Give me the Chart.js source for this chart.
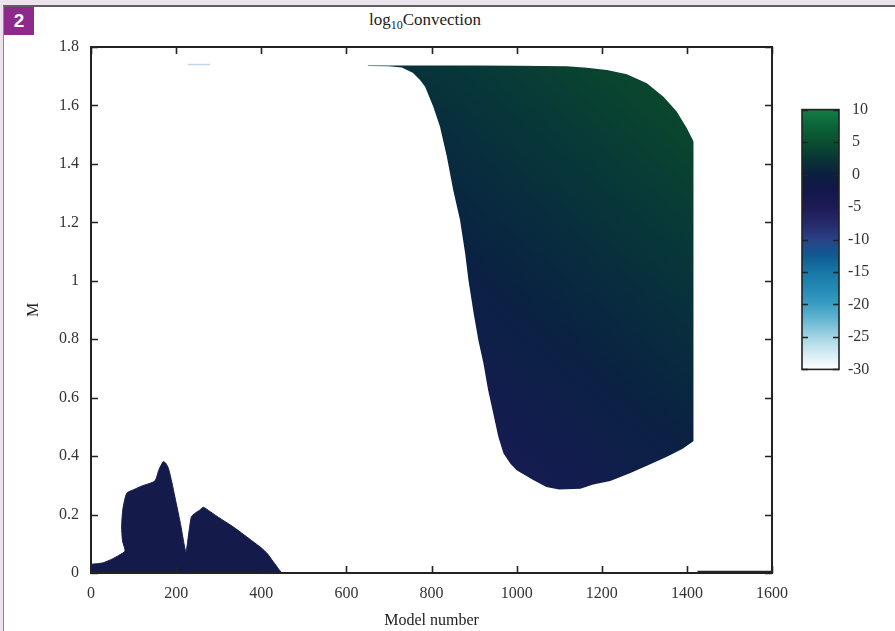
<!DOCTYPE html>
<html>
<head>
<meta charset="utf-8">
<title>log10Convection</title>
<script src="https://cdn.jsdelivr.net/npm/chart.js@4.4.1/dist/chart.umd.min.js"></script>
<style>
html,body{margin:0;padding:0;}
body{width:895px;height:631px;background:#ede3ef;position:relative;overflow:hidden;font-family:"Liberation Serif",serif;}
#panel{position:absolute;left:3px;top:5px;right:0;bottom:0;background:#fff;border-top:2px solid #5f5f5f;border-left:1px solid #8a8a8a;}
#badge{position:absolute;left:4px;top:7px;width:30px;height:28px;background:#8d2a8c;color:#fff;font:bold 19px "Liberation Sans",sans-serif;text-align:center;line-height:28px;}
#title{position:absolute;left:0;top:10px;width:850px;text-align:center;font-size:17px;color:#222;}
#title sub{font-size:12px;color:#222;}
#main{position:absolute;left:0;top:0;width:895px;height:631px;}
#cb{position:absolute;left:795px;top:91px;width:100px;height:297px;}
</style>
</head>
<body>
<div id="panel"></div>
<div id="badge">2</div>
<div id="title">log<sub>10</sub>Convection</div>
<div id="main"><canvas id="mainChart"></canvas></div>
<div id="cb"><canvas id="cbChart"></canvas></div>
<script>
// x = model number, y = M
// main convective zone (upper edge / lower edge)
var coreTopModel = [650, 700, 800, 900, 1000, 1118, 1165, 1212, 1259, 1306, 1345, 1376, 1400, 1416]
var coreTopM     = [1.737, 1.737, 1.737, 1.737, 1.736, 1.734, 1.729, 1.721, 1.707, 1.676, 1.63, 1.579, 1.522, 1.476]

var coreBotModel = [650, 700, 730, 756, 773, 785, 804, 820, 836, 851, 867, 879, 887, 899, 910, 922, 933, 945, 957, 969, 985, 1000, 1039, 1070, 1100, 1150, 1180, 1220, 1266, 1310, 1353, 1390, 1416]
var coreBotM     = [1.735, 1.734, 1.73, 1.712, 1.687, 1.664, 1.596, 1.527, 1.425, 1.311, 1.208, 1.094, 1.0, 0.889, 0.797, 0.718, 0.626, 0.547, 0.466, 0.41, 0.375, 0.352, 0.318, 0.294, 0.286, 0.288, 0.303, 0.315, 0.341, 0.37, 0.398, 0.425, 0.452]

// early convective core
var earlyModel = [0, 15, 29, 50, 65, 80, 74, 72, 75, 84, 100, 120, 150, 160, 170, 176, 182, 190, 197, 210, 223, 230, 236, 244, 255, 264, 280, 300, 334, 360, 381, 401, 415, 428, 440, 448]
var earlyM     = [0.03, 0.032, 0.035, 0.048, 0.06, 0.075, 0.11, 0.16, 0.22, 0.273, 0.285, 0.298, 0.315, 0.355, 0.381, 0.375, 0.358, 0.31, 0.261, 0.17, 0.073, 0.14, 0.193, 0.204, 0.215, 0.225, 0.21, 0.19, 0.158, 0.13, 0.107, 0.085, 0.065, 0.039, 0.015, 0]

// thin bits
var sliverModel = [228, 280]
var sliverM     = [1.74, 1.74]
var lateModel   = [1425, 1600]
var lateM       = [0.003, 0.003]

// colour bar
var cbValues = [10, 7.5, 5, 2.5, 0, -2.5, -5, -7.5, -10, -12.5, -15, -17.5, -20, -22.5, -25, -27.5, -30]
var cbColors = ['#137d45', '#0c6439', '#0a4f30', '#083636', '#0c1f40', '#13174a', '#1d1a56', '#25296a', '#2a4286', '#0f5b91', '#1877a6', '#2389b5', '#3a9dc2', '#69b8d2', '#a3d4e4', '#d3ebf3', '#ffffff']
var cbTicks = [10, -30, 5]  // max, min, step

function pts(xs, ys) {
  var out = []
  for (var i = 0; i < xs.length; i++) out.push({x: xs[i], y: ys[i]})
  return out
}

var serif = "'Liberation Serif', 'DejaVu Serif', serif"

// ticks pointing into the plot, plus the frame
var inwardTicks = {
  id: 'inwardTicks',
  afterDatasetsDraw: function (chart, args, opts) {
    var c = chart.ctx
    var a = chart.chartArea
    var len = opts.len || 7
    c.save()
    c.strokeStyle = '#222'
    c.lineWidth = 1.6
    c.beginPath()
    if (opts.x) {
      var sx = chart.scales.x
      sx.ticks.forEach(function (t) {
        var px = Math.round(sx.getPixelForValue(t.value)) + 0.5
        c.moveTo(px, a.bottom); c.lineTo(px, a.bottom - len)
        c.moveTo(px, a.top); c.lineTo(px, a.top + len)
      })
    }
    var sy = chart.scales.y
    sy.ticks.forEach(function (t) {
      var py = Math.round(sy.getPixelForValue(t.value)) + 0.5
      c.moveTo(a.left, py); c.lineTo(a.left + len, py)
      c.moveTo(a.right, py); c.lineTo(a.right - len, py)
    })
    c.stroke()
    c.lineWidth = opts.frame || 2
    c.strokeRect(a.left, a.top, a.right - a.left, a.bottom - a.top)
    c.restore()
  }
}

function coreFill(ctx) {
  var chart = ctx.chart
  if (!chart.chartArea) return '#0a2a40'
  var sx = chart.scales.x, sy = chart.scales.y
  var g = chart.ctx.createLinearGradient(sx.getPixelForValue(850), sy.getPixelForValue(0.6), sx.getPixelForValue(1420), sy.getPixelForValue(1.6))
  g.addColorStop(0, '#141c50')
  g.addColorStop(0.3, '#0a2143')
  g.addColorStop(0.65, '#07353a')
  g.addColorStop(1, '#0a4a2b')
  return g
}

function cbFill(ctx) {
  var chart = ctx.chart
  if (!chart.chartArea) return '#0c1f40'
  var sy = chart.scales.y
  var g = chart.ctx.createLinearGradient(0, sy.getPixelForValue(10), 0, sy.getPixelForValue(-30))
  for (var i = 0; i < cbValues.length; i++) {
    g.addColorStop((10 - cbValues[i]) / 40, cbColors[i])
  }
  return g
}

new Chart(document.getElementById('mainChart'), {
  type: 'line',
  data: {
    datasets: [
      {label: 'top', data: pts(coreTopModel, coreTopM), fill: '+1', backgroundColor: coreFill, borderWidth: 0, pointRadius: 0, tension: 0},
      {label: 'bottom', data: pts(coreBotModel, coreBotM), fill: false, borderWidth: 0, pointRadius: 0, tension: 0},
      {label: 'early', data: pts(earlyModel, earlyM), fill: 'origin', backgroundColor: '#141a4a', borderColor: '#141a4a', borderWidth: 1, pointRadius: 0, tension: 0.2},
      {label: 'sliver', data: pts(sliverModel, sliverM), fill: false, borderColor: '#bcd8e6', borderWidth: 1.5, pointRadius: 0},
      {label: 'late', data: pts(lateModel, lateM), fill: false, borderColor: '#222', borderWidth: 2.5, pointRadius: 0}
    ]
  },
  options: {
    animation: false,
    responsive: true,
    maintainAspectRatio: false,
    layout: {padding: {left: 0, top: 47, right: 123, bottom: 0}},
    plugins: {
      legend: {display: false},
      tooltip: {enabled: false},
      inwardTicks: {len: 7, x: true, frame: 2}
    },
    scales: {
      x: {
        type: 'linear', min: 0, max: 1600,
        grid: {display: false, drawTicks: false},
        border: {display: false},
        ticks: {stepSize: 200, padding: 11, maxRotation: 0, color: '#333', font: {family: serif, size: 16},
          callback: function (v) { return String(v) }},
        title: {display: true, text: 'Model number', color: '#222', font: {family: serif, size: 16}, padding: {top: 0, bottom: 1}},
        afterFit: function (s) { s.height = 58 }
      },
      y: {
        type: 'linear', min: 0, max: 1.8,
        grid: {display: false, drawTicks: false},
        border: {display: false},
        ticks: {stepSize: 0.2, padding: 12, color: '#333', font: {family: serif, size: 16},
          callback: function (v) { return String(parseFloat(v.toFixed(1))) }},
        title: {display: true, text: 'M', color: '#222', font: {family: serif, size: 16}, padding: {top: 24, bottom: 0}},
        afterFit: function (s) { s.width = 91 }
      }
    }
  },
  plugins: [inwardTicks]
})

new Chart(document.getElementById('cbChart'), {
  type: 'bar',
  data: {
    labels: ['log10Convection'],
    datasets: [{data: [[cbTicks[1], cbTicks[0]]], backgroundColor: cbFill, borderWidth: 0, barPercentage: 1, categoryPercentage: 1}]
  },
  options: {
    animation: false,
    responsive: true,
    maintainAspectRatio: false,
    layout: {padding: {left: 7, top: 0, right: 0, bottom: 0}},
    plugins: {
      legend: {display: false},
      tooltip: {enabled: false},
      inwardTicks: {len: 6, x: false, frame: 1.6}
    },
    scales: {
      x: {display: false},
      y: {
        position: 'right', min: cbTicks[1], max: cbTicks[0],
        grid: {display: false, drawTicks: false},
        border: {display: false},
        ticks: {
          stepSize: cbTicks[2], padding: 9, color: '#333', font: {family: serif, size: 16},
          callback: function (v) { return (v >= 0 ? ' ' : '') + v }
        },
        afterFit: function (s) { s.width = 56 }
      }
    }
  },
  plugins: [inwardTicks]
})
</script>
</body>
</html>
